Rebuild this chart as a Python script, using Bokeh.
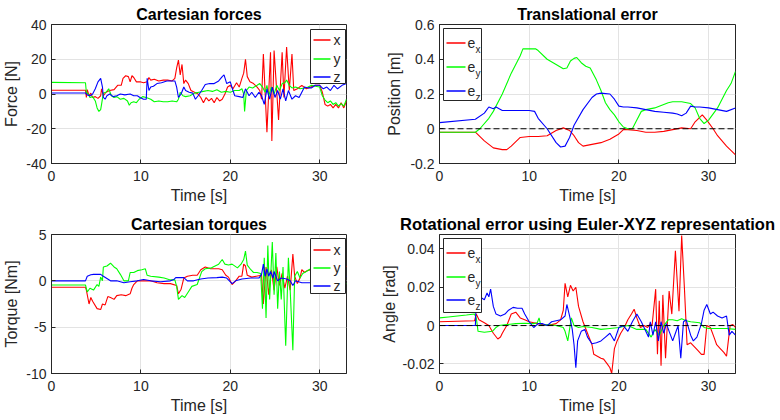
from bokeh.plotting import figure
from bokeh.layouts import column, row
from bokeh.models import Range1d, Span, Label, FixedTicker
from bokeh.embed import file_html
from bokeh.resources import INLINE

# ---------------- data ----------------
T_MAX = 33
X_TICKS = [0, 10, 20, 30]

# Cartesian forces [N]
FX_T = [0, 3.8, 3.9, 4.0, 4.2, 4.4, 4.6, 4.9, 5.2, 5.5, 5.6, 5.8, 6.1, 6.5, 7.0, 7.4, 7.8, 8.0, 8.3, 8.6, 8.8, 9.0, 9.2, 9.5, 9.9, 10.3, 10.7, 10.9, 11.1, 11.5, 12.0, 12.5, 13.0, 13.5, 13.8, 14.0, 14.2, 14.4, 14.6, 14.8, 15.0, 15.3, 15.6, 16.0, 16.4, 16.7, 17.0, 17.3, 17.6, 17.9, 18.2, 18.5, 18.8, 19.1, 19.4, 19.7, 20.0, 20.3, 20.7, 21.0, 21.3, 21.5, 21.7, 21.9, 22.2, 22.6, 23.0, 23.3, 23.5, 23.7, 24.1, 24.5, 24.65, 24.9, 25.4, 25.8, 26.0, 26.3, 26.6, 26.9, 27.1, 27.5, 28.0, 28.5, 29.0, 29.5, 30.0, 30.3, 30.6, 30.9, 31.2, 31.5, 31.8, 32.1, 32.4, 32.7, 33.0]
FX_V = [2.2, 2.2, -2, 2.5, -1, 0.5, -2, -1.5, -2.5, -1, 3, -1, 1, 2, 2.5, 5, 5, 9, 10.5, 10, 7, 10.5, 9.5, 7, 7, 6.5, 7, 9.5, 8, 8.5, 7.5, 8, 8, 7.5, 9, 15, 19.5, 11, 17, 6, 8, 6, 2, 1, 0, -2, -5, -2, -4, -2.5, -5, -2, -4, -3, 0, 4, 5, 3, 6.5, 4, 9, 12, 20, 10, 7, 6, 4, 2, -3, 23, -22, 24, -27, 25, -15, 24, -2, 27, 2, 23, 2, 3, 5, 3, 4, 5, 5, 1, -6, -7, -6, -8, -6, -8, -5, -8, -4]

FY_T = [0, 3.8, 3.9, 4.1, 4.3, 4.6, 4.9, 5.1, 5.3, 5.5, 5.6, 5.8, 6.1, 6.4, 6.7, 7.0, 7.3, 7.7, 8.1, 8.5, 8.7, 8.9, 9.2, 9.5, 9.8, 10.2, 10.6, 11.1, 11.5, 12.0, 12.5, 13.0, 13.5, 14.0, 14.2, 14.4, 14.7, 15.0, 15.5, 16.0, 16.5, 17.0, 17.5, 18.0, 18.5, 19.0, 19.5, 20.0, 20.5, 21.0, 21.3, 21.5, 21.6, 21.8, 22.1, 22.5, 23.0, 23.3, 23.6, 23.9, 24.1, 24.3, 24.6, 24.9, 25.2, 25.5, 25.8, 26.1, 26.3, 26.6, 26.9, 27.3, 27.8, 28.3, 28.7, 29.1, 29.5, 30.0, 30.3, 30.6, 30.9, 31.2, 31.5, 31.8, 32.1, 32.4, 32.7, 33.0]
FY_V = [6.7, 6.5, 1, 0, -2, -1.5, -4, -8, -10, -9, -6, 0.5, 1, 3, -1, -2, -1.5, -3, -2.5, -4, -6.5, -5, -4.5, -5, -3, -1.5, -2, -3, -4.5, -4, -4.5, -4.5, -4, -4.5, -3, 1, -1, -1.5, -1, 0.5, 1, 1.5, 2, 1.5, 2.5, 1, 1.5, 1, 2, 2, 3, 0, -10, 2, 4, 3.5, 5, 6, 4, 1, 5, -1, 4, 0, 5, 2, 6, 6.5, 8, 5, 3.5, 4, 3, 3.5, 4, 5, 4.5, 4, -1, -3.5, -5, -4, -6, -5, -7, -5.5, -7, -3]

FZ_T = [0, 3.8, 4.0, 4.3, 4.6, 4.9, 5.2, 5.5, 5.7, 5.8, 6.0, 6.2, 6.5, 6.9, 7.3, 7.7, 8.2, 8.8, 9.2, 9.6, 9.9, 10.3, 10.6, 10.7, 10.9, 11.1, 11.4, 11.8, 12.3, 12.9, 13.4, 13.8, 14.0, 14.2, 14.5, 14.8, 15.0, 15.4, 15.8, 16.1, 16.4, 16.8, 17.2, 17.7, 18.2, 18.7, 19.1, 19.3, 19.6, 20.0, 20.3, 20.5, 21.0, 21.4, 21.7, 22.1, 22.4, 22.8, 23.2, 23.5, 23.8, 24.1, 24.4, 24.7, 25.0, 25.3, 25.6, 25.9, 26.2, 26.5, 26.9, 27.3, 27.7, 28.0, 28.3, 28.7, 29.1, 29.5, 30.0, 30.4, 30.8, 31.2, 31.6, 32.0, 32.5, 33.0]
FZ_V = [0.6, 0.6, -0.5, -1, 0, 3, 7, 9, 4, -2, -3, -1, 0, -1.5, -1, 0, -0.5, 0, -1, -1, -2, -3, -3, 9, 2, 4, 4.5, 6, 6.5, 7.5, 7.5, 7.5, 4, -2, 0, 4, 2, 1, 0.5, -3, -1, 2, 5.5, 6, 6, 7.5, 10, 11, 6, 7, 2, -1, -1.5, -2, 3, -1, 1, -2, 1, -1, -6, 3, -3, 4, -2, 2, -3, 3, -4, 2, -3, -1, -2, 1, 4, 3.5, 3.5, 5, 5, 3, 4, 2, 5, 3, 5, 6]

# Translational error [m]
EX_T = [0, 4.0, 5.0, 6.0, 7.0, 7.5, 8.0, 9.0, 10.0, 11.0, 12.0, 13.0, 13.8, 14.5, 15.0, 15.5, 16.0, 17.0, 18.0, 19.0, 20.0, 20.5, 21.0, 22.0, 23.0, 24.0, 25.0, 26.0, 27.0, 28.0, 28.5, 29.3, 29.8, 30.5, 31.0, 32.0, 33.0]
EX_V = [-0.02, -0.02, -0.07, -0.11, -0.12, -0.12, -0.10, -0.05, -0.045, -0.045, -0.04, -0.01, 0.005, -0.01, -0.04, -0.08, -0.10, -0.09, -0.08, -0.06, -0.03, -0.005, -0.005, -0.01, -0.02, -0.02, -0.015, -0.005, 0.005, 0.0, 0.04, 0.08, 0.05, 0.0, -0.04, -0.10, -0.15]
EY_T = [0, 4.0, 4.5, 5.5, 6.0, 7.0, 8.0, 9.0, 9.3, 10.0, 10.7, 11.0, 12.0, 13.0, 13.8, 14.2, 14.6, 15.0, 15.3, 15.8, 16.3, 16.8, 17.5, 18.0, 18.5, 19.0, 19.5, 20.0, 20.5, 21.0, 21.5, 22.0, 22.5, 23.0, 24.0, 25.0, 25.5, 26.0, 27.0, 28.0, 28.5, 29.0, 29.5, 30.0, 31.0, 32.0, 32.5, 33.0]
EY_V = [-0.02, -0.02, 0.0, 0.06, 0.10, 0.20, 0.32, 0.42, 0.46, 0.46, 0.46, 0.45, 0.40, 0.37, 0.345, 0.35, 0.39, 0.405, 0.41, 0.38, 0.36, 0.35, 0.28, 0.22, 0.15, 0.11, 0.08, 0.04, 0.01, 0.0, 0.0, 0.05, 0.10, 0.11, 0.12, 0.14, 0.15, 0.155, 0.155, 0.145, 0.12, 0.06, 0.03, 0.05, 0.12, 0.22, 0.26, 0.33]
EZ_T = [0, 4.0, 5.0, 5.5, 6.0, 6.3, 7.0, 8.0, 9.0, 10.0, 10.6, 11.0, 12.0, 13.0, 13.5, 14.0, 14.5, 15.0, 16.0, 17.0, 17.5, 18.0, 19.0, 19.5, 20.0, 20.5, 21.0, 22.0, 23.0, 24.0, 25.0, 26.0, 26.5, 27.0, 27.5, 28.0, 28.5, 29.0, 30.0, 31.0, 32.0, 33.0]
EZ_V = [0.035, 0.055, 0.09, 0.125, 0.115, 0.125, 0.105, 0.105, 0.105, 0.105, 0.10, 0.06, 0.0, -0.08, -0.105, -0.10, -0.05, 0.02, 0.11, 0.18, 0.20, 0.205, 0.20, 0.17, 0.13, 0.125, 0.125, 0.12, 0.11, 0.10, 0.095, 0.09, 0.085, 0.075, 0.09, 0.13, 0.125, 0.125, 0.12, 0.11, 0.10, 0.12]

# Cartesian torques [Nm]
TX_T = [0, 3.8, 3.9, 4.2, 4.4, 4.6, 5.1, 5.5, 5.7, 6.0, 6.3, 6.6, 7.0, 7.3, 7.8, 8.3, 8.8, 9.0, 9.2, 9.6, 10.3, 11.1, 11.8, 12.6, 13.3, 14.0, 14.2, 14.5, 14.8, 15.2, 15.8, 16.3, 16.7, 17.2, 17.8, 18.7, 19.1, 19.5, 19.8, 20.2, 20.6, 21.0, 21.3, 21.5, 21.7, 21.9, 22.4, 22.9, 23.5, 23.7, 24.0, 24.3, 24.6, 24.9, 25.2, 25.5, 25.8, 26.1, 26.4, 26.7, 27.0, 27.2, 27.5, 27.8, 28.0, 28.3, 28.6, 29.0, 29.5, 30.0, 31.0, 32.0, 32.4, 32.6, 33.0]
TX_V = [-0.7, -0.7, -1.0, -2.5, -1.8, -2.2, -3.0, -3.1, -2.5, -2.6, -1.7, -1.8, -2.0, -1.6, -1.5, -1.6, -1.4, -0.8, -0.4, 0.0, 0.0, 0.0, -0.2, -0.3, -0.3, -0.5, -1.4, -0.9, 0.3, 0.5, 0.6, 0.6, 1.2, 1.5, 1.3, 1.3, 1.2, 0.6, 0.4, -0.4, 0.0, 0.5, 0.5, 1.8, 1.6, 0.6, 0.4, 0.5, 0.6, -2.5, 1.5, -1.5, 1.2, -1.0, 1.5, -0.5, 0.8, -0.8, 0.5, -1.0, 2.9, 0.5, -0.3, 0.3, 1.2, 0.9, 1.1, 1.2, 1.1, 1.1, 1.0, 1.1, 2.0, 1.9, 1.5]
TY_T = [0, 3.8, 4.0, 4.3, 4.7, 5.1, 5.3, 5.5, 5.7, 5.8, 6.2, 6.6, 7.0, 7.3, 7.7, 8.1, 8.6, 8.8, 9.2, 9.6, 10.1, 10.5, 10.7, 11.1, 12.0, 12.6, 13.3, 13.8, 14.0, 14.2, 14.6, 14.9, 15.3, 15.7, 16.3, 16.8, 17.2, 17.9, 18.7, 19.1, 19.4, 19.8, 20.2, 20.8, 21.2, 21.5, 21.7, 21.9, 22.3, 22.6, 23.0, 23.4, 23.6, 23.8, 24.0, 24.2, 24.4, 24.7, 24.9, 25.1, 25.3, 25.5, 25.7, 25.9, 26.2, 26.5, 26.7, 27.0, 27.2, 27.5, 27.8, 28.1, 28.5, 29.0, 29.5, 30.0, 30.5, 31.0, 31.5, 32.0, 32.5, 33.0]
TY_V = [-0.45, -0.45, -1.2, -0.8, -1.0, -0.4, -0.6, 0.4, 0.0, 1.5, 1.6, 1.9, 1.5, 1.3, 0.7, 0.0, 0.0, 0.9, 0.9, 1.1, 1.2, 1.3, 0.6, 0.5, 0.4, 0.3, 0.1, 0.1, -0.6, -2.0, -1.6, -1.8, -1.2, -0.6, -0.4, 1.0, 1.3, 1.4, 1.8, 2.3, 1.8, 1.7, 1.8, 1.4, 1.8, 2.3, 3.2, 1.7, 1.2, 0.9, 0.9, 0.8, -3.0, 2.5, -4.0, 3.8, -2.0, 4.2, -1.5, 3.0, -3.0, 1.0, -2.0, 1.5, -7.0, 2.5, -1.0, -7.5, 0.5, 1.0, 0.3, 0.8, 1.0, 1.3, 0.8, 0.6, 0.4, 0.3, 0.2, 0.0, -0.2, -0.3]
TZ_T = [0, 3.8, 4.0, 4.4, 4.7, 5.5, 5.8, 6.6, 7.3, 8.1, 8.8, 9.6, 10.3, 11.1, 12.2, 13.3, 13.7, 13.9, 14.4, 14.8, 15.2, 15.9, 16.7, 17.5, 18.5, 19.1, 19.6, 20.2, 20.6, 21.3, 22.3, 23.2, 23.5, 23.7, 23.9, 24.1, 24.3, 24.5, 24.8, 24.9, 25.3, 25.7, 26.3, 26.7, 27.0, 27.3, 28.0, 29.0, 30.0, 30.9, 31.7, 32.4, 33.0]
TZ_V = [0.0, 0.0, 0.5, 0.65, 0.7, 0.7, 0.5, 0.0, 0.0, -0.2, -0.1, 0.0, 0.15, 0.0, -0.1, 0.0, 0.15, 0.35, 0.35, 0.35, 0.0, 0.0, 0.2, 0.3, 0.35, 0.4, 0.3, -0.3, 0.0, 0.2, 0.3, 0.3, 0.7, 1.8, 0.5, 1.3, 0.5, 1.0, 0.3, 1.0, 0.0, 0.3, 0.2, 0.0, -0.5, 0.0, -0.2, -0.2, -0.2, -0.2, 0.0, 0.35, 0.5]

# Rotational error [rad]
RX_T = [0, 3.9, 4.1, 4.4, 5.0, 5.5, 6.0, 6.5, 6.8, 7.0, 7.5, 8.0, 8.5, 9.0, 9.5, 10.0, 10.5, 11.0, 11.5, 12.0, 12.5, 13.0, 13.5, 13.8, 14.0, 14.3, 14.6, 14.9, 15.2, 15.5, 16.0, 16.5, 17.0, 17.2, 17.6, 18.0, 18.3, 18.7, 19.0, 19.2, 19.5, 19.8, 20.2, 20.6, 21.0, 21.4, 21.7, 22.0, 22.4, 22.8, 23.2, 23.5, 23.7, 24.1, 24.3, 24.5, 24.7, 24.9, 25.2, 25.6, 25.9, 26.3, 26.7, 27.0, 27.3, 27.6, 28.0, 28.4, 28.8, 29.2, 29.5, 29.8, 30.2, 30.6, 30.9, 31.3, 31.7, 32.0, 32.2, 32.4, 32.7, 33.0]
RX_V = [0.002, 0.0025, 0.006, 0.003, 0.0015, 0.0, -0.004, -0.007, -0.006, -0.004, 0.0, 0.006, 0.007, 0.004, 0.003, 0.002, 0.0015, 0.001, 0.0005, 0.0, 0.0005, 0.001, 0.003, 0.008, 0.022, 0.015, 0.021, 0.018, 0.02, 0.01, 0.002, -0.004, -0.01, -0.015, -0.016, -0.017, -0.0175, -0.02, -0.022, -0.025, -0.012, -0.008, -0.004, -0.001, 0.003, 0.006, 0.0085, 0.004, -0.001, 0.0, -0.001, 0.001, 0.0, 0.019, -0.015, 0.013, -0.021, 0.016, -0.017, 0.018, 0.006, 0.039, 0.0075, 0.047, 0.02, -0.01, -0.009, -0.011, -0.013, -0.015, -0.015, 0.0, -0.001, -0.006, -0.01, -0.012, -0.014, -0.016, -0.008, 0.0, 0.0005, -0.001]
RY_T = [0, 1.0, 2.0, 3.0, 3.9, 4.1, 4.3, 5.0, 5.9, 6.3, 6.6, 7.5, 8.5, 9.5, 10.5, 10.9, 11.1, 11.3, 12.0, 13.0, 13.8, 14.0, 14.3, 14.5, 14.7, 15.0, 15.5, 16.0, 17.0, 18.0, 19.0, 20.0, 21.0, 22.0, 23.0, 23.6, 24.0, 24.5, 25.0, 25.5, 26.0, 26.5, 27.0, 27.5, 28.0, 29.0, 29.5, 30.0, 31.0, 32.0, 33.0]
RY_V = [0.004, 0.0045, 0.005, 0.0055, 0.006, 0.004, -0.003, -0.0035, -0.003, -0.001, 0.0, 0.0005, 0.001, 0.0012, 0.001, 0.0015, 0.004, 0.0, 0.0005, 0.0, -0.001, -0.003, -0.008, -0.002, 0.004, 0.0, -0.001, -0.0005, -0.001, -0.002, -0.0015, -0.001, 0.0, -0.002, -0.002, -0.006, -0.002, -0.005, 0.0, 0.003, 0.003, 0.0025, 0.0035, 0.0025, 0.002, 0.0015, -0.001, -0.0015, -0.0015, -0.0015, -0.002]
RZ_T = [0, 4.0, 4.1, 4.5, 5.0, 5.3, 5.5, 5.7, 6.0, 6.3, 6.8, 7.3, 7.7, 8.2, 8.7, 9.2, 9.5, 10.0, 10.5, 11.0, 11.5, 12.0, 12.5, 13.0, 13.5, 14.0, 14.2, 14.5, 14.8, 15.0, 15.2, 15.4, 15.8, 16.2, 16.5, 17.0, 17.5, 18.0, 18.5, 19.0, 19.5, 20.0, 20.5, 21.0, 21.5, 22.0, 22.5, 23.0, 23.3, 23.5, 23.8, 24.1, 24.4, 24.7, 25.0, 25.3, 25.6, 26.0, 26.3, 26.6, 26.9, 27.2, 27.5, 28.0, 28.3, 28.7, 29.2, 29.5, 29.8, 30.2, 30.5, 31.0, 31.5, 32.0, 32.3, 32.6, 33.0]
RZ_V = [0.0, 0.0, 0.013, 0.015, 0.0135, 0.017, 0.015, 0.019, 0.01, 0.006, 0.005, 0.006, 0.008, 0.0095, 0.009, 0.009, 0.006, 0.002, -0.001, 0.001, 0.001, 0.0, 0.002, 0.0025, 0.003, 0.005, 0.011, 0.005, -0.002, -0.010, -0.022, -0.008, -0.003, -0.002, -0.006, -0.0095, -0.009, -0.008, -0.006, -0.004, -0.008, -0.001, 0.0, -0.003, 0.002, 0.006, 0.002, -0.003, -0.006, 0.002, -0.005, 0.002, -0.008, 0.002, -0.004, 0.001, -0.003, -0.008, -0.004, 0.0, -0.017, 0.002, 0.003, -0.005, -0.008, -0.006, 0.001, 0.008, 0.011, 0.006, 0.007, 0.005, 0.004, 0.005, -0.005, -0.003, -0.005]

Y_FORCE = (-40, 40); YT_FORCE = [-40, -20, 0, 20, 40]
Y_TRANS = (-0.2, 0.6); YT_TRANS = [-0.2, 0, 0.2, 0.4, 0.6]
Y_TORQ = (-10, 5); YT_TORQ = [-10, -5, 0, 5]
Y_ROT = (-0.025, 0.0475); YT_ROT = [-0.02, 0, 0.02, 0.04]

RED, GREEN, BLUE = "#ff0000", "#00ff00", "#0000ff"
FONT = "Liberation Sans"
AX = "#262626"
FRAME_H = 139


def make_fig(width, bl, br, yr, yticks, title, ylabel, ylab_standoff, title_size="16px"):
    p = figure(width=width, height=210, x_range=Range1d(0, T_MAX), y_range=Range1d(*yr),
               output_backend="svg", toolbar_location=None,
               min_border_left=bl, min_border_right=br, min_border_top=24, min_border_bottom=47)
    p.title.text = title
    p.title.align = "center"
    p.title.text_font = FONT
    p.title.text_font_size = title_size
    p.title.text_font_style = "bold"
    p.title.text_color = "#000000"
    p.title.standoff = 4
    p.outline_line_color = AX
    p.outline_line_alpha = 1
    p.outline_line_width = 1
    p.xaxis.ticker = FixedTicker(ticks=X_TICKS)
    p.yaxis.ticker = FixedTicker(ticks=yticks)
    p.yaxis.major_label_overrides = {v: f"{v:g}" for v in yticks}
    for ax in (p.xaxis[0], p.yaxis[0]):
        ax.major_tick_in = 4
        ax.major_tick_out = 0
        ax.minor_tick_line_color = None
        ax.axis_line_color = AX
        ax.major_tick_line_color = AX
        ax.major_label_text_font = FONT
        ax.major_label_text_font_size = "14px"
        ax.major_label_text_color = AX
        ax.axis_label_text_font = FONT
        ax.axis_label_text_font_size = "16px"
        ax.axis_label_text_font_style = "normal"
        ax.axis_label_text_color = AX
    p.xaxis.axis_label = "Time [s]"
    p.yaxis.axis_label = ylabel
    p.xaxis.major_label_standoff = 7
    p.xaxis.axis_label_standoff = 3
    p.yaxis.major_label_standoff = 5
    p.yaxis.axis_label_standoff = ylab_standoff
    p.xgrid.grid_line_color = "#e3e3e3"
    p.ygrid.grid_line_color = "#e3e3e3"
    return p


def add_legend(p, fw, xr, yr, box, rows, line_x, text_x, labels, colors, sub=None):
    # legend placed at fixed pixel offsets inside the frame, converted to data units
    X = lambda px: xr[0] + px / fw * (xr[1] - xr[0])
    Y = lambda py: yr[1] - py / FRAME_H * (yr[1] - yr[0])
    p.quad(left=[X(box[0])], right=[X(box[1])], top=[Y(box[2])], bottom=[Y(box[3])],
           fill_color="white", line_color=AX, line_width=1)
    for i, lab in enumerate(labels):
        yy = Y(rows[i])
        p.line([X(line_x[0]), X(line_x[1])], [yy, yy], line_color=colors[i], line_width=1.6)
        p.add_layout(Label(x=X(text_x), y=yy, text=lab, text_font=FONT, text_font_size="14px",
                           text_baseline="middle", text_align="left", text_color=AX))
        if sub:
            p.add_layout(Label(x=X(text_x + 8), y=Y(rows[i] + 6), text=sub[i], text_font=FONT,
                               text_font_size="10px", text_baseline="middle", text_align="left",
                               text_color=AX))


LW = 1.1
# top-left: forces
p1 = make_fig(377, 51, 31, Y_FORCE, YT_FORCE, "Cartesian forces", "Force [N]", 3)
p1.line(FX_T, FX_V, color=RED, line_width=LW)
p1.line(FY_T, FY_V, color=GREEN, line_width=LW)
p1.line(FZ_T, FZ_V, color=BLUE, line_width=LW)
add_legend(p1, 295, (0, T_MAX), Y_FORCE, (259, 294, 5, 59), [15.5, 34.5, 52.5], (262, 279), 282,
           ["x", "y", "z"], [RED, GREEN, BLUE])

# top-right: translational error
p2 = make_fig(403, 62, 45, Y_TRANS, YT_TRANS, "Translational error", "Position [m]", 4)
p2.line(EX_T, EX_V, color=RED, line_width=LW)
p2.line(EY_T, EY_V, color=GREEN, line_width=LW)
p2.line(EZ_T, EZ_V, color=BLUE, line_width=LW)
p2.add_layout(Span(location=0, dimension="width", line_color="black", line_dash="6 3", line_width=1))
add_legend(p2, 296, (0, T_MAX), Y_TRANS, (4, 42, 4, 76), [18.5, 42.5, 66.5], (7, 26), 28,
           ["e", "e", "e"], [RED, GREEN, BLUE], sub=["x", "y", "z"])

# bottom-left: torques
p3 = make_fig(377, 51, 31, Y_TORQ, YT_TORQ, "Cartesian torques", "Torque [Nm]", 3)
p3.line(TX_T, TX_V, color=RED, line_width=LW)
p3.line(TY_T, TY_V, color=GREEN, line_width=LW)
p3.line(TZ_T, TZ_V, color=BLUE, line_width=LW)
add_legend(p3, 295, (0, T_MAX), Y_TORQ, (259, 294, 4, 59), [15.5, 33.5, 51.5], (262, 279), 282,
           ["x", "y", "z"], [RED, GREEN, BLUE])

# bottom-right: rotational error
p4 = make_fig(403, 62, 45, Y_ROT, YT_ROT, "Rotational error using Euler-XYZ representation",
              "Angle [rad]", 2, title_size="16.5px")
p4.line(RX_T, RX_V, color=RED, line_width=LW)
p4.line(RY_T, RY_V, color=GREEN, line_width=LW)
p4.line(RZ_T, RZ_V, color=BLUE, line_width=LW)
p4.add_layout(Span(location=0, dimension="width", line_color="black", line_dash="6 3", line_width=1))
add_legend(p4, 296, (0, T_MAX), Y_ROT, (4, 42, 4, 78), [18.5, 42.5, 65.5], (7, 26), 28,
           ["e", "e", "e"], [RED, GREEN, BLUE], sub=["x", "y", "z"])

layout = column(row(p1, p2), row(p3, p4))
open("out.html", "w").write(file_html(layout, INLINE))
